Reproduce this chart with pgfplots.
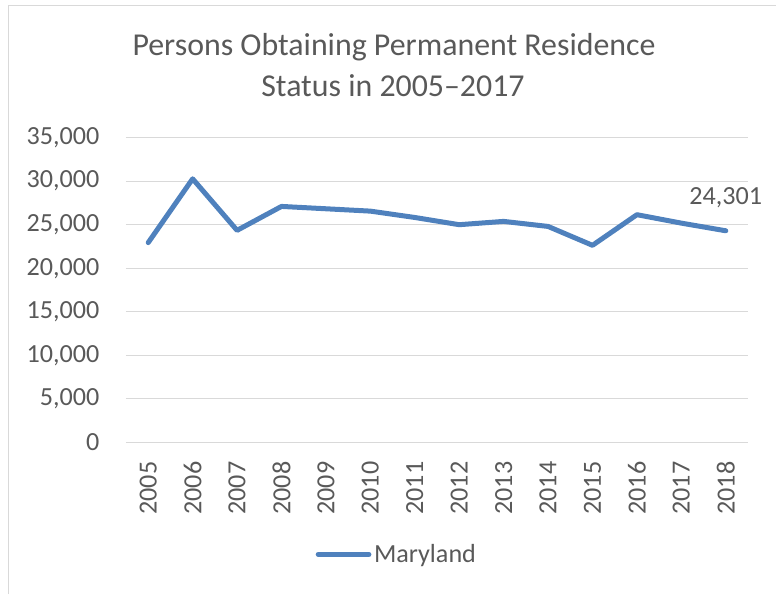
\documentclass[border=0pt]{standalone}
\usepackage{pgfplots}
\pgfplotsset{compat=1.18}
\usepackage{fontspec}
\setmainfont{Carlito}
\definecolor{txt}{HTML}{595959}
\definecolor{gridc}{HTML}{D9D9D9}
\definecolor{linec}{HTML}{4F81BD}
\begin{document}
\begin{tikzpicture}
\path[use as bounding box] (0pt,0pt) rectangle (582pt,445.5pt);
\draw[gridc,line width=0.9pt] (6.4pt,0pt) -- (6.4pt,441.4pt) -- (582pt,441.4pt);
\node[txt,font=\fontsize{23.9pt}{28pt}\selectfont] at (295.5pt,410.25pt) {Persons Obtaining Permanent Residence};
\node[txt,font=\fontsize{23.9pt}{28pt}\selectfont] at (294.75pt,381pt) {Status in 2005--2017};
\begin{axis}[
  at={(94.5pt,113.8pt)}, anchor=south west,
  scale only axis, width=466.5pt, height=228.45pt,
  xmin=-0.5, xmax=13.5, ymin=0, ymax=35000,
  xtick={0,...,13},
  xticklabels={2005,2006,2007,2008,2009,2010,2011,2012,2013,2014,2015,2016,2017,2018},
  x tick label style={rotate=90, anchor=east, xshift=-11pt},
  ytick={0,5000,...,35000},
  y tick label style={xshift=-16.5pt},
  /pgf/number format/.cd, 1000 sep={,}, assume math mode=true, /pgfplots/.cd,
  scaled y ticks=false,
  ticklabel style={font=\fontsize{19.6pt}{22pt}\selectfont, text=txt},
  major tick length=0pt,
  axis line style={draw=none},
  ymajorgrids, xmajorgrids=false, major grid style={draw=gridc, line width=0.75pt},
  axis x line*=bottom, axis y line*=left,
  clip=false,
  legend style={at={(0.436,-0.368)}, anchor=center, draw=none, fill=none,
    font=\fontsize{19.6pt}{22pt}\selectfont, text=txt, inner sep=0pt},
  legend image code/.code={\draw[#1, line width=3.75pt, line cap=round] (0pt,0pt) -- (38pt,0pt);},
]
\draw[gridc, line width=0.75pt] (axis cs:-0.5,0) -- (axis cs:13.5,0);
\addplot[linec, line width=3.75pt, line cap=round, line join=round, mark=none] coordinates {
 (0,22940) (1,30270) (2,24350) (3,27100) (4,26830) (5,26560) (6,25830)
 (7,25000) (8,25380) (9,24800) (10,22630) (11,26150) (12,25180) (13,24301)};
\addlegendentry{Maryland}
\node[txt, font=\fontsize{19.6pt}{22pt}\selectfont, anchor=center] at ([yshift=25pt]axis cs:13,24301) {24,301};
\end{axis}
\end{tikzpicture}
\end{document}
